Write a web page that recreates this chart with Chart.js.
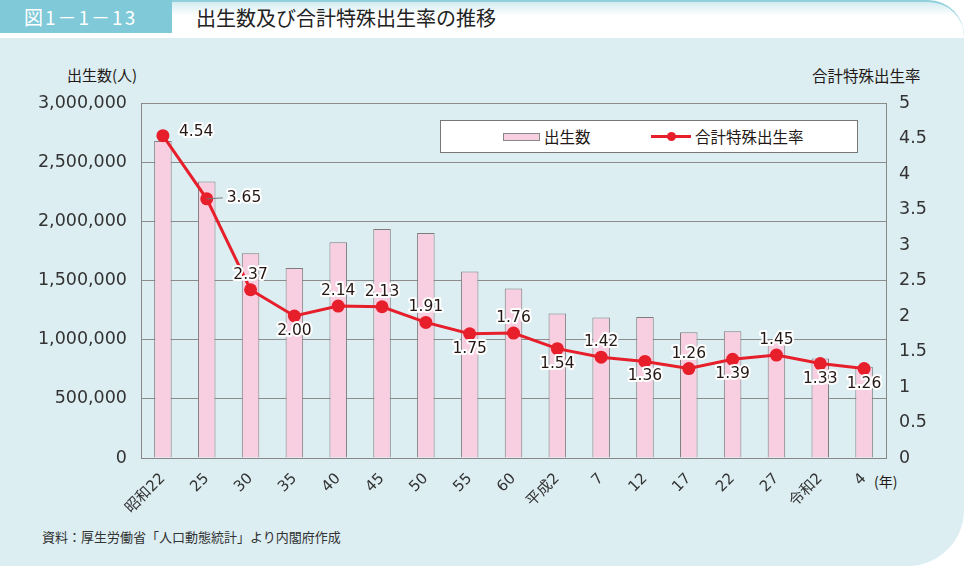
<!DOCTYPE html>
<html lang="ja">
<head>
<meta charset="utf-8">
<script src="https://cdn.jsdelivr.net/npm/chart.js@4.4.1/dist/chart.umd.min.js"></script>
<style>
  html, body { margin: 0; padding: 0; background: #fff; }
  #page { position: relative; width: 964px; height: 566px; overflow: hidden; font-family: "Noto Sans CJK JP", sans-serif; color: #231815; }
  #head { position: absolute; left: 0; top: 0; width: 964px; height: 36px; box-sizing: border-box; border-top: 2px solid #8fd0dc; border-top-right-radius: 46px; background: linear-gradient(#d3ecf1 0, #fff 14px); }
  #badge { position: absolute; left: 0; top: 0; width: 172px; height: 33px; background: #7fc9d8; color: #fff; font-size: 19px; line-height: 33px; text-indent: 24px; letter-spacing: 2px; }
  #title { position: absolute; left: 196px; top: 4px; font-size: 20px; line-height: 28px; color: #222; }
  #panel { position: absolute; left: 0; top: 38px; width: 964px; height: 528px; background: #dceef2; border-bottom-right-radius: 56px; }
  .lbl { position: absolute; font-size: 15px; line-height: 18px; color: #231815; white-space: nowrap; }
  #legend { position: absolute; left: 440px; top: 120px; width: 416px; height: 31px; background: #fff; border: 1px solid #777; }
  .sw-bar { position: absolute; left: 62px; top: 12px; width: 35px; height: 6px; background: #f8cfe0; border: 1px solid #888; }
  .sw-line { position: absolute; left: 210px; top: 14px; width: 40px; height: 3px; background: #e61f2b; }
  .sw-dot { position: absolute; left: 226px; top: 11px; width: 9px; height: 9px; border-radius: 50%; background: #e61f2b; }
  .lg-text { position: absolute; top: 5px; font-size: 15.5px; line-height: 20px; }
  #source { position: absolute; left: 42px; top: 527px; font-size: 13px; line-height: 20px; color: #333; }
  canvas { position: absolute; left: 0; top: 0; }
</style>
</head>
<body>
<div id="page">
  <div id="head"></div>
  <div id="badge">図1－1－13</div>
  <div id="title">出生数及び合計特殊出生率の推移</div>
  <div id="panel"></div>
  <div class="lbl" style="left:67px; top:66px;">出生数(人)</div>
  <div class="lbl" style="left:812px; top:66px; font-size:15.5px;">合計特殊出生率</div>
  <div class="lbl" style="left:874px; top:472px; font-size:14px;">(年)</div>
  <div id="source">資料：厚生労働省「人口動態統計」より内閣府作成</div>
  <canvas id="chart" width="964" height="566"></canvas>
  <div id="legend">
    <div class="sw-bar"></div>
    <div class="lg-text" style="left:103px;">出生数</div>
    <div class="sw-line"></div>
    <div class="sw-dot"></div>
    <div class="lg-text" style="left:254px;">合計特殊出生率</div>
  </div>
</div>
<script>
// データ
const years = ['昭和22', '25', '30', '35', '40', '45', '50', '55', '60', '平成2', '7', '12', '17', '22', '27', '令和2', '4'];
const births = [2678792, 2337507, 1730692, 1606041, 1823697, 1934239, 1901440, 1576889, 1431577, 1221585, 1187064, 1190547, 1062530, 1071305, 1005721, 840835, 770759];
const rates = [4.54, 3.65, 2.37, 2.00, 2.14, 2.13, 1.91, 1.75, 1.76, 1.54, 1.42, 1.36, 1.26, 1.39, 1.45, 1.33, 1.26];
const birthTicks = [0, 500000, 1000000, 1500000, 2000000, 2500000, 3000000];
const rateTicks = [0, 0.5, 1, 1.5, 2, 2.5, 3, 3.5, 4, 4.5, 5];

// ラベルの位置
const labelPos = ['right', 'leader', 'above', 'below', 'above', 'above', 'above', 'below', 'above',
                  'below', 'above', 'below', 'above', 'below', 'above', 'below', 'below'];

const RED = '#e61f2b';
const NUM_FONT = '"DejaVu Sans", "Noto Sans CJK JP", sans-serif';

// 折れ線の数値ラベル
const rateLabels = {
    id: 'rateLabels',
    afterDatasetsDraw(chart) {
        const ctx = chart.ctx;
        const meta = chart.getDatasetMeta(1);
        ctx.save();
        ctx.font = '15.5px ' + NUM_FONT;
        ctx.textBaseline = 'middle';
        meta.data.forEach(function (pt, i) {
            const txt = rates[i].toFixed(2);
            let x = pt.x, y = pt.y, align = 'center';
            const pos = labelPos[i];
            if (pos === 'right') {
                x += 16; y -= 4; align = 'left';
            } else if (pos === 'leader') {
                ctx.strokeStyle = '#777';
                ctx.lineWidth = 1;
                ctx.beginPath();
                ctx.moveTo(pt.x, pt.y);
                ctx.lineTo(pt.x + 16, pt.y - 1);
                ctx.stroke();
                x += 20; y -= 1; align = 'left';
            } else if (pos === 'above') {
                y -= 15;
            } else {
                y += 15;
            }
            ctx.textAlign = align;
            ctx.lineJoin = 'round';
            ctx.lineWidth = 4;
            ctx.strokeStyle = '#fff';
            ctx.strokeText(txt, x, y);
            ctx.fillStyle = '#231815';
            ctx.fillText(txt, x, y);
        });
        ctx.restore();
    }
};

const ctx = document.getElementById('chart').getContext('2d');
new Chart(ctx, {
    data: {
        labels: years,
        datasets: [
            {
                type: 'bar',
                label: '出生数',
                data: births,
                yAxisID: 'y',
                backgroundColor: '#f8cfe0',
                borderColor: '#7d7d7d',
                borderWidth: 1,
                barPercentage: 0.4,
                categoryPercentage: 1.0,
                order: 2
            },
            {
                type: 'line',
                label: '合計特殊出生率',
                data: rates,
                yAxisID: 'y2',
                borderColor: RED,
                borderWidth: 3,
                pointRadius: 6.5,
                pointBackgroundColor: RED,
                pointBorderWidth: 0,
                tension: 0,
                order: 1
            }
        ]
    },
    options: {
        responsive: false,
        animation: false,
        layout: { padding: { top: 103, left: 0, right: 0, bottom: 0 } },
        plugins: {
            legend: { display: false },
            tooltip: { enabled: false }
        },
        scales: {
            x: {
                offset: true,
                grid: { display: false },
                border: { display: true, color: '#888', width: 1 },
                ticks: {
                    color: '#333',
                    font: { size: 15, family: NUM_FONT },
                    minRotation: 45,
                    maxRotation: 45,
                    padding: 4,
                    autoSkip: false
                },
                afterFit: function (s) { s.height = 108; }
            },
            y: {
                position: 'left',
                min: 0,
                max: 3000000,
                afterBuildTicks: function (s) { s.ticks = birthTicks.map(v => ({ value: v })); },
                grid: { color: '#8c8c8c', drawTicks: false },
                border: { display: true, color: '#888', width: 1 },
                ticks: {
                    color: '#333',
                    font: { size: 17.5, family: NUM_FONT },
                    padding: 14,
                    callback: v => v.toLocaleString('en-US')
                },
                afterFit: function (s) { s.width = 141; }
            },
            y2: {
                position: 'right',
                min: 0,
                max: 5,
                afterBuildTicks: function (s) { s.ticks = rateTicks.map(v => ({ value: v })); },
                grid: { drawOnChartArea: false, drawTicks: false },
                border: { display: true, color: '#888', width: 1 },
                ticks: {
                    color: '#333',
                    font: { size: 17.5, family: NUM_FONT },
                    padding: 13,
                    callback: v => String(v)
                },
                afterFit: function (s) { s.width = 78; }
            }
        }
    },
    plugins: [rateLabels]
});
</script>
</body>
</html>
